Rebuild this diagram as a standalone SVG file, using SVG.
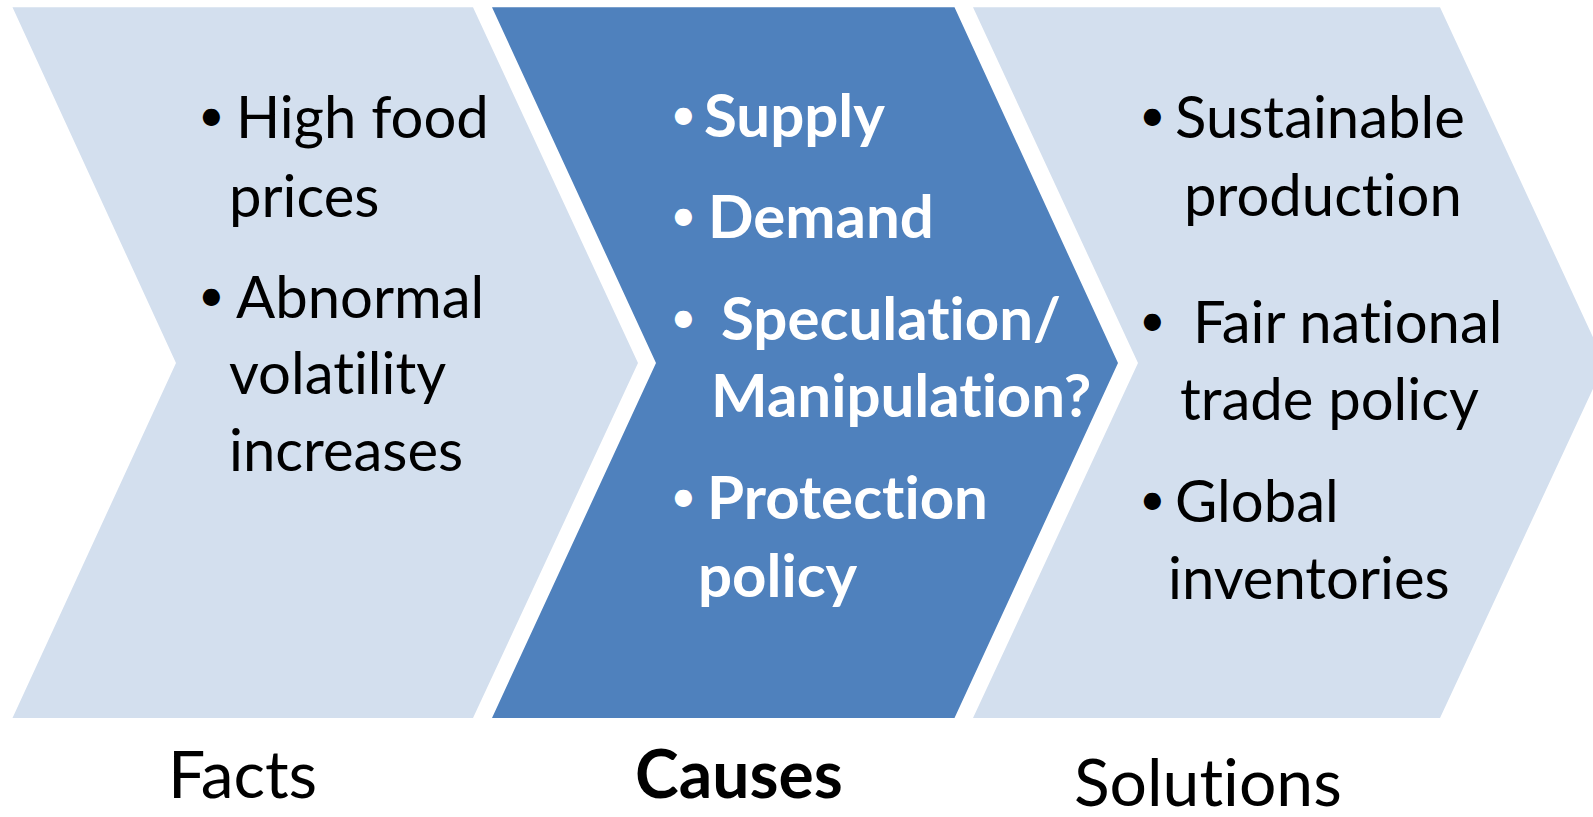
<svg xmlns="http://www.w3.org/2000/svg" width="1593" height="817" viewBox="0 0 1593 817">
  <style>
    text { font-variant-ligatures: none; font-feature-settings: "liga" 0, "dlig" 0; }
    .light { fill: #D3DFEE; }
    .dark { fill: #4F81BD; }
    .body { font-family: Lato, "Open Sans", sans-serif; font-size: 58px; fill: #000000; }
    .bold { font-family: Lato, "Open Sans", sans-serif; font-size: 60px; font-weight: bold; fill: #FFFFFF; }
    .dot { font-family: Lato, "Open Sans", sans-serif; font-size: 46px; fill: #000000; }
    .dotw { font-family: Lato, "Open Sans", sans-serif; font-size: 46px; fill: #FFFFFF; }
    .label { font-family: Lato, "Open Sans", sans-serif; font-size: 66px; fill: #000000; }
    .labelb { font-family: Lato, "Open Sans", sans-serif; font-size: 66px; font-weight: bold; fill: #000000; }
  </style>

  <rect width="1593" height="817" fill="#FFFFFF"/>

  <!-- Facts chevron -->
  <g id="facts">
    <polygon class="light" points="12.5,7.3 473,7.3 638,363 473,718 12.5,718 176,363"/>
    <text class="dot" x="198" y="131">•</text>
    <text class="body" x="236" y="138">High food</text>
    <text class="body" x="229" y="217">prices</text>
    <text class="dot" x="198" y="311">•</text>
    <text class="body" x="236" y="318">Abnormal</text>
    <text class="body" x="229" y="394">volatility</text>
    <text class="body" x="229" y="471">increases</text>
  </g>

  <!-- Causes chevron -->
  <g id="causes">
    <polygon class="dark" points="492,7.3 954.5,7.3 1118,363 954.5,718 492,718 656,363"/>
    <text class="dotw" x="670" y="130">•</text>
    <text class="bold" x="704" y="137">Supply</text>
    <text class="dotw" x="670" y="231">•</text>
    <text class="bold" x="708" y="238">Demand</text>
    <text class="dotw" x="670" y="333">•</text>
    <text class="bold" x="721" y="340">Speculation/</text>
    <text class="bold" x="711" y="417">Manipulation?</text>
    <text class="dotw" x="670" y="512">•</text>
    <text class="bold" x="707" y="519">Protection</text>
    <text class="bold" x="698" y="597">policy</text>
  </g>

  <!-- Solutions chevron -->
  <g id="solutions">
    <polygon class="light" points="973,7.3 1440,7.3 1605,363 1440,718 973,718 1138,363"/>
    <text class="dot" x="1139" y="131">•</text>
    <text class="body" x="1175" y="138">Sustainable</text>
    <text class="body" x="1184" y="216">production</text>
    <text class="dot" x="1139" y="336">•</text>
    <text class="body" x="1193" y="343">Fair national</text>
    <text class="body" x="1180" y="420">trade policy</text>
    <text class="dot" x="1139" y="515">•</text>
    <text class="body" x="1175" y="522">Global</text>
    <text class="body" x="1168" y="599">inventories</text>
  </g>

  <!-- Stage captions -->
  <g id="captions">
    <text class="label" x="168" y="798">Facts</text>
    <text class="labelb" x="635" y="798">Causes</text>
    <text class="label" x="1074" y="806">Solutions</text>
  </g>

  <g id="connectors"></g>
</svg>
